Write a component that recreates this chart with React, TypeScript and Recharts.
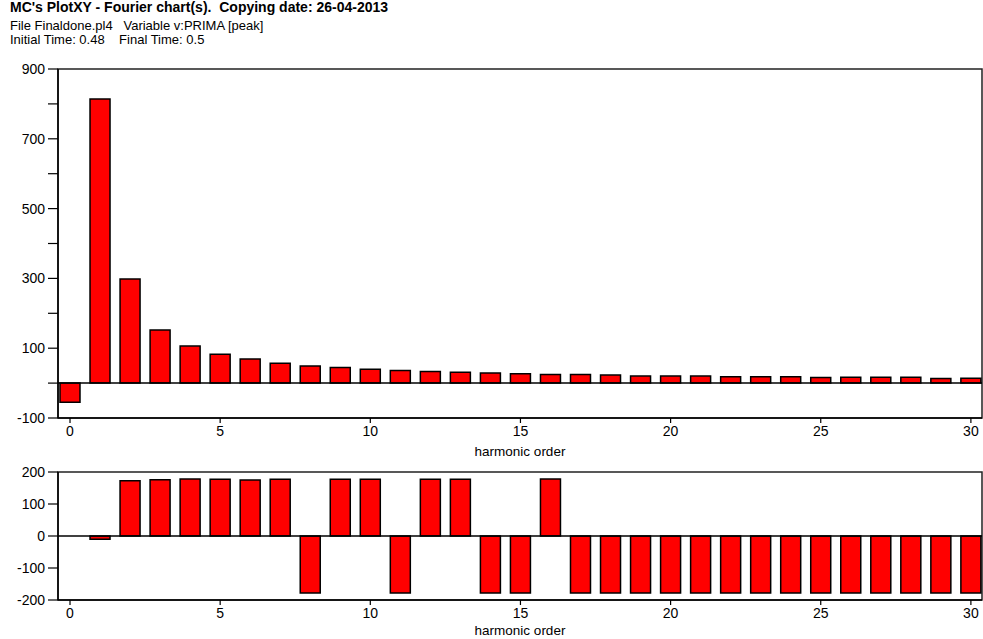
import {
  BarChart,
  Bar,
  XAxis,
  YAxis,
  ReferenceLine,
  ReferenceArea,
  Label,
} from "recharts";

// harmonic order 0..30
const harmonicOrders = [
  0, 1, 2, 3, 4, 5, 6, 7, 8, 9, 10, 11, 12, 13, 14, 15, 16, 17, 18, 19, 20,
  21, 22, 23, 24, 25, 26, 27, 28, 29, 30,
];

// peak amplitude of each harmonic
const amplitudes = [
  -55, 814, 298, 152, 106, 83, 69, 57, 49, 45, 40, 36, 33, 31, 29, 27, 25, 25,
  23, 20, 20, 20, 18, 18, 18, 16, 17, 17, 17, 13, 14,
];

// phase angle of each harmonic (deg)
const phases = [
  0, -10, 173, 176, 178, 177, 175, 177, -178, 177, 177, -178, 177, 177, -178,
  -178, 178, -178, -178, -178, -178, -178, -178, -178, -178, -178, -178, -178,
  -178, -178, -178,
];

const xTicks = [0, 5, 10, 15, 20, 25, 30];
const ampTicks = [-100, 0, 100, 200, 300, 400, 500, 600, 700, 800, 900];
const phaseTicks = [-200, -100, 0, 100, 200];

const X_MIN = -0.4;
const X_MAX = 30.37;
const FONT = "'Liberation Sans', Arial, sans-serif";
const TICK_FONT = 14;

const rows = harmonicOrders.map((order, i) => ({
  order,
  amplitude: amplitudes[i],
  phase: phases[i],
}));

const axisLine = { stroke: "#000", strokeWidth: 1.5 };
const tickLine = { stroke: "#000", strokeWidth: 1.2 };

// only every other hundred gets a number on the amplitude axis
const AmpTick = (props: any) => {
  const { x, y, payload } = props;
  if (Math.abs(payload.value) % 200 !== 100) return <g />;
  return (
    <text x={x} y={y} dy={5} textAnchor="end" fontSize={TICK_FONT} fill="#000" fontFamily={FONT}>
      {payload.value}
    </text>
  );
};

const PhaseTick = (props: any) => {
  const { x, y, payload } = props;
  return (
    <text x={x} y={y} dy={5} textAnchor="end" fontSize={TICK_FONT} fill="#000" fontFamily={FONT}>
      {payload.value}
    </text>
  );
};

function HarmonicAxis({ height }: { height: number }) {
  return (
    <XAxis
      dataKey="order"
      type="number"
      domain={[X_MIN, X_MAX]}
      allowDataOverflow
      ticks={xTicks}
      interval={0}
      tickSize={5}
      tickMargin={3}
      height={height}
      axisLine={axisLine}
      tickLine={tickLine}
      tick={{ fontSize: TICK_FONT, fill: "#000", fontFamily: FONT }}
    >
      <Label
        value="harmonic order"
        position="insideBottom"
        offset={2}
        fontSize={13.5}
        fill="#000"
        fontFamily={FONT}
      />
    </XAxis>
  );
}

const headStyle = {
  position: "absolute" as const,
  left: 10,
  fontSize: 13,
  lineHeight: "15px",
  whiteSpace: "pre" as const,
};

export default function App() {
  return (
    <div
      style={{
        position: "absolute",
        left: 0,
        top: 0,
        width: 983,
        height: 639,
        background: "#fff",
        fontFamily: FONT,
        color: "#000",
      }}
    >
      <div style={{ ...headStyle, top: 0, fontSize: 14, fontWeight: "bold" }}>
        MC's PlotXY - Fourier chart(s).  Copying date: 26-04-2013
      </div>
      <div style={{ ...headStyle, top: 18 }}>
        File Finaldone.pl4   Variable v:PRIMA [peak]
      </div>
      <div style={{ ...headStyle, top: 32 }}>
        Initial Time: 0.48    Final Time: 0.5
      </div>

      {/* amplitude spectrum */}
      <div style={{ position: "absolute", left: 0, top: 0 }}>
        <BarChart
          width={983}
          height={460}
          data={rows}
          margin={{ top: 69, right: 1, bottom: 2, left: 0 }}
        >
          <HarmonicAxis height={40} />
          <YAxis
            type="number"
            domain={[-100, 900]}
            ticks={ampTicks}
            interval={0}
            width={58}
            tickSize={10}
            tickMargin={3}
            axisLine={axisLine}
            tickLine={tickLine}
            tick={(p: any) => <AmpTick {...p} />}
          />
          <ReferenceArea
            x1={X_MIN}
            x2={X_MAX}
            y1={-100}
            y2={900}
            fill="none"
            stroke="#222"
            strokeWidth={1.5}
            ifOverflow="visible"
          />
          <Bar
            dataKey="amplitude"
            barSize={20}
            fill="#ff0000"
            stroke="#000"
            strokeWidth={1.5}
            isAnimationActive={false}
          />
          <ReferenceLine y={0} stroke="#000" strokeWidth={1.5} />
        </BarChart>
      </div>

      {/* phase spectrum */}
      <div style={{ position: "absolute", left: 0, top: 0 }}>
        <BarChart
          width={983}
          height={639}
          data={rows}
          margin={{ top: 472, right: 1, bottom: 2, left: 0 }}
        >
          <HarmonicAxis height={37} />
          <YAxis
            type="number"
            domain={[-200, 200]}
            ticks={phaseTicks}
            interval={0}
            width={58}
            tickSize={10}
            tickMargin={3}
            axisLine={axisLine}
            tickLine={tickLine}
            tick={(p: any) => <PhaseTick {...p} />}
          />
          <ReferenceArea
            x1={X_MIN}
            x2={X_MAX}
            y1={-200}
            y2={200}
            fill="none"
            stroke="#222"
            strokeWidth={1.5}
            ifOverflow="visible"
          />
          <Bar
            dataKey="phase"
            barSize={20}
            fill="#ff0000"
            stroke="#000"
            strokeWidth={1.5}
            isAnimationActive={false}
          />
          <ReferenceLine y={0} stroke="#000" strokeWidth={1.5} />
        </BarChart>
      </div>
    </div>
  );
}
